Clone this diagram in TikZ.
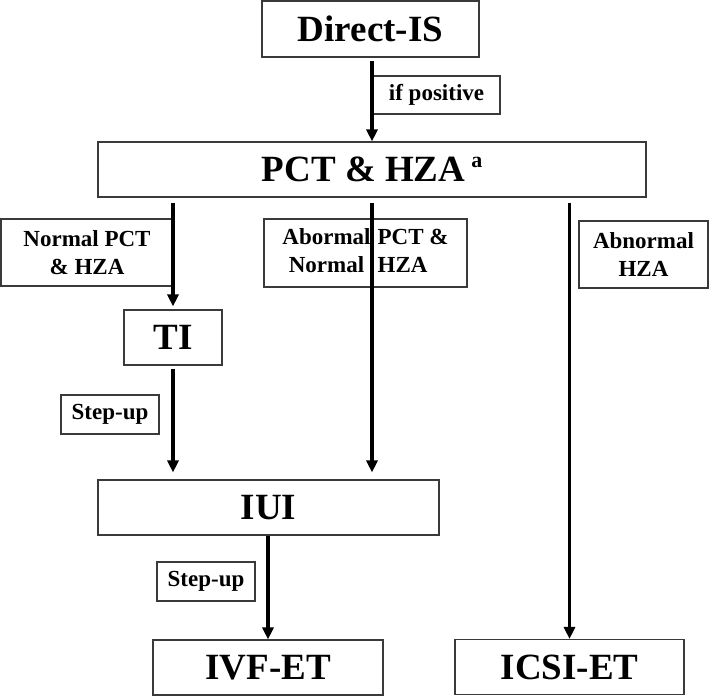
\documentclass[tikz,border=0pt]{standalone}
\usepackage{fontspec}
\setmainfont{Liberation Serif}
\usetikzlibrary{arrows.meta}
\definecolor{boxgray}{HTML}{3A3A3A}
\begin{document}
\begin{tikzpicture}[x=1pt,y=-1pt,
  big/.style={draw=boxgray, line width=1.1pt, inner sep=0pt, align=center,
    font=\bfseries\fontsize{37}{40}\selectfont, minimum height=55pt},
  lab/.style={draw=boxgray, line width=1.1pt, inner sep=0pt, align=center,
    font=\bfseries\fontsize{23}{28}\selectfont},
  arr/.style={line width=3.2pt, -{Triangle[length=12pt,width=11pt]}},
  bar/.style={line width=3.2pt}]
\useasboundingbox (0,0) rectangle (709,696);
% main boxes
\node[big, minimum width=217pt, minimum height=56pt] (dis) at (370.5,29) {Direct-IS};
\node[big, minimum width=548pt] (pct) at (372,169.5)
  {PCT \& HZA\hspace{6pt}\raisebox{14pt}{\fontsize{22}{24}\selectfont a}};
\node[big, minimum width=98pt] (ti) at (173,337.5) {TI};
\node[big, minimum width=341pt] (iui) at (268.5,507.5) {IUI};
\node[big, minimum width=230pt] (ivf) at (268,667.5) {IVF-ET};
\node[big, minimum width=229pt] (icsi) at (569.5,667) {ICSI-ET};
% label boxes
\node[lab, minimum width=127pt, minimum height=38pt] (ifp) at (436.5,95) {if positive};
\node[lab, minimum width=172pt, minimum height=67pt] (npct) at (87,252.5) {Normal PCT\\\& HZA};
\node[lab, minimum width=203pt, minimum height=68pt] (apct) at (365.5,253)
  {\begin{tabular}{@{}c@{\hspace{7pt}}l@{}}Abormal & PCT \&\\ Normal & HZA\end{tabular}};
\node[lab, minimum width=129pt, minimum height=67pt] (ahza) at (643.5,254.5) {Abnormal\\HZA};
\node[lab, minimum width=98pt, minimum height=39pt] (su1) at (110,414.5) {Step-up};
\node[lab, minimum width=98pt, minimum height=39pt] (su2) at (206,581.5) {Step-up};
% connectors
\draw[arr, shorten <=3pt] (dis.south -| pct.north) -- (pct.north);
\draw[arr, shorten <=5pt, shorten >=3pt] (pct.south -| ti.north) -- (ti.north);
\draw[arr, shorten <=5pt, shorten >=7pt] (pct.south) -- (iui.north -| pct.south);
\draw[arr, shorten <=5pt] (pct.south -| icsi.north) -- (icsi.north);
\draw[arr, shorten <=3pt, shorten >=7pt] (ti.south) -- (iui.north -| ti.south);
\draw[arr] (iui.south -| ivf.north) -- (ivf.north);
\end{tikzpicture}
\end{document}
